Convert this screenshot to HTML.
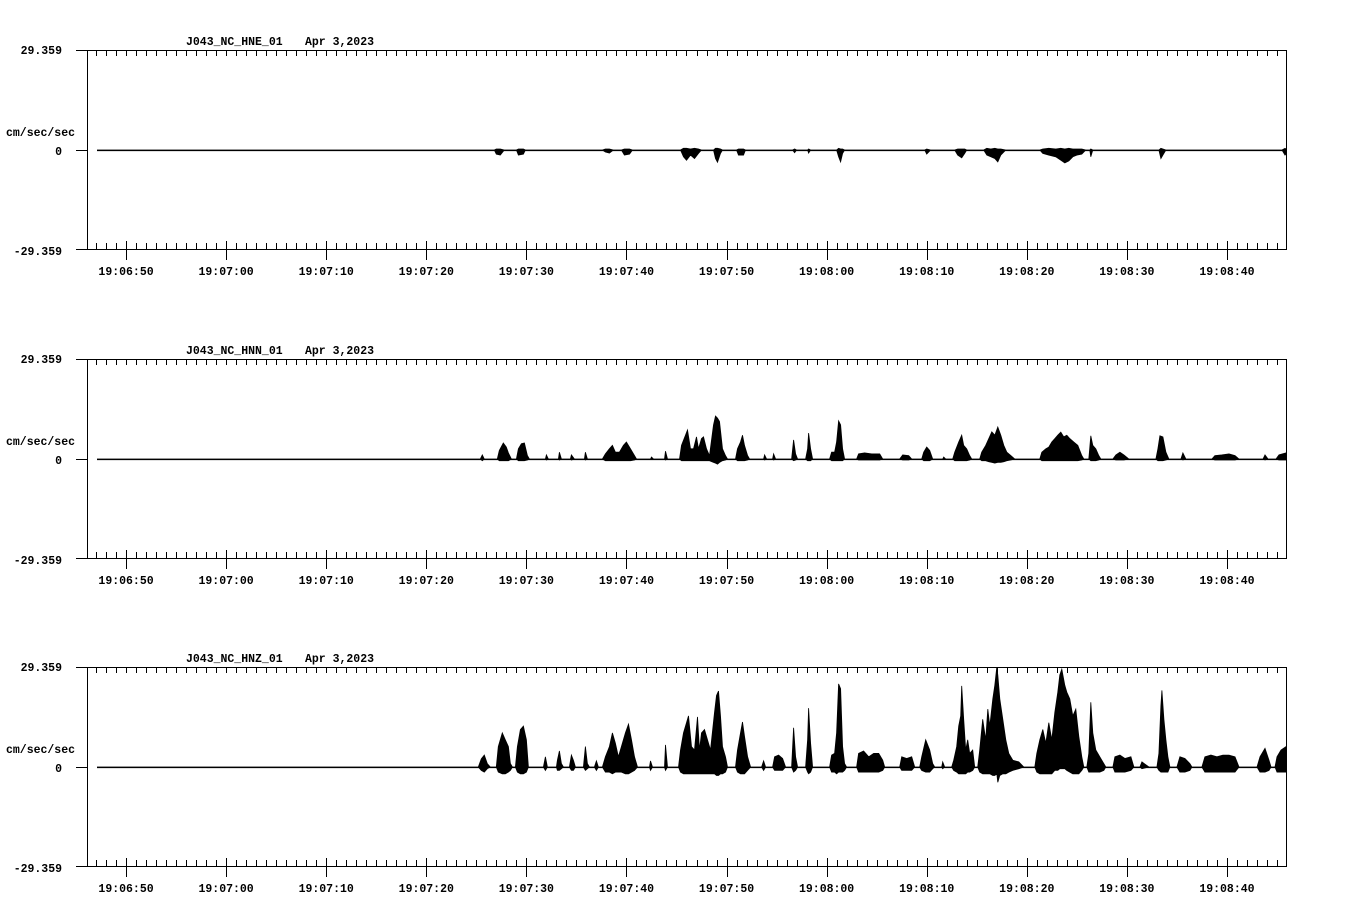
<!DOCTYPE html>
<html><head><meta charset="utf-8"><style>
html,body{margin:0;padding:0;background:#fff;}
svg{display:block;}
text{font-family:"Liberation Mono",monospace;font-weight:bold;font-size:11.5px;fill:#000;}
</style></head><body>
<svg id="chart" width="1358" height="924" viewBox="0 0 1358 924"></svg>
<script>
const channelNames = ["J043_NC_HNE_01","J043_NC_HNN_01","J043_NC_HNZ_01"];
const dateLabel = "Apr 3,2023";
const yMax = 29.359;
const tickLabels = ["19:06:50","19:07:00","19:07:10","19:07:20","19:07:30","19:07:40","19:07:50","19:08:00","19:08:10","19:08:20","19:08:30","19:08:40"];
const majorTickSeconds = [50,60,70,80,90,100,110,120,130,140,150,160];
// envelope samples: [seconds after 19:06:00, max, min] in cm/sec/sec
const hneData = [[47.1,0,0],[86.8,0,0],[87.0,0.3,-1.2],[87.4,0.3,-1.5],[87.8,0,0],[89.0,0,0],[89.2,0.3,-1.5],[89.7,0.3,-1.2],[89.9,0,0],[97.6,0,0],[97.9,0.3,-0.6],[98.3,0.3,-0.9],[98.7,0,0],[99.5,0,0],[99.8,0.3,-1.5],[100.3,0.3,-1.2],[100.6,0,0],[105.4,0,0],[105.7,0.5,-2],[106.0,0.5,-3],[106.4,0.3,-1.5],[106.8,0.5,-2.5],[107.2,0.3,-1],[107.5,0,0],[108.7,0,0],[108.9,0.5,-2.5],[109.1,0.5,-3.6],[109.4,0.3,-1],[109.6,0,0],[111.0,0,0],[111.2,0.3,-1.5],[111.7,0.3,-1.5],[111.9,0,0],[116.6,0,0],[116.8,0.3,-0.8],[117.0,0,0],[118.1,0,0],[118.2,0.3,-0.9],[118.4,0,0],[121.0,0,0],[121.2,0.5,-2],[121.4,0.3,-3.5],[121.6,0.3,-1],[121.8,0,0],[129.8,0,0],[130.0,0.3,-1.2],[130.4,0,0],[132.8,0,0],[133.1,0.3,-1.5],[133.5,0.3,-2.3],[133.8,0.3,-1],[134.0,0,0],[135.7,0,0],[136.0,0.5,-1.5],[136.4,0.3,-2],[136.8,0.5,-2.5],[137.1,0.3,-3.5],[137.4,0.3,-1.5],[137.9,0,0],[141.3,0,0],[141.6,0.3,-1],[142.2,0.5,-1.5],[142.9,0.3,-2],[143.4,0.5,-3],[143.8,0.3,-3.8],[144.2,0.5,-3.2],[144.6,0.3,-2],[145.0,0.3,-1.5],[145.5,0.3,-1.2],[145.9,0,0],[146.3,0,0],[146.4,0.3,-2],[146.6,0,0],[153.2,0,0],[153.4,0.5,-2.5],[153.6,0.3,-1.5],[153.9,0,0],[165.5,0,0],[165.8,0.5,-1.5],[165.9,0.3,-1.2]];
const hnnData = [[47.1,0,0],[85.4,0,0],[85.6,1.2,-0.5],[85.8,0,0],[87.1,0,0],[87.3,2.5,-0.5],[87.7,4.7,-0.5],[88.0,3.5,-0.5],[88.2,1.8,-0.5],[88.5,0,0],[89.0,0,0],[89.2,3,-0.5],[89.5,4.5,-0.5],[89.8,4.7,-0.5],[90.1,1,-0.3],[90.3,0,0],[91.9,0,0],[92.0,1.2,-0.3],[92.2,0,0],[93.2,0,0],[93.3,2,-0.3],[93.5,0,0],[94.4,0,0],[94.5,1.2,-0.3],[94.8,0,0],[95.8,0,0],[95.9,2,-0.3],[96.1,0,0],[97.6,0,0],[97.9,1.5,-0.5],[98.3,3,-0.5],[98.6,4,-0.5],[98.9,2,-0.5],[99.3,2,-0.5],[99.7,4,-0.5],[100.0,5,-0.5],[100.4,3,-0.5],[100.8,1,-0.3],[101.0,0,0],[102.4,0,0],[102.5,0.6,0],[102.7,0,0],[103.8,0,0],[103.9,2.3,-0.3],[104.1,0,0],[105.3,0,0],[105.5,4,-0.5],[105.9,7,-0.5],[106.1,8.5,-0.5],[106.4,3,-0.5],[106.7,3,-0.5],[107.0,6.5,-0.5],[107.2,3,-0.5],[107.5,6,-0.5],[107.7,6.5,-0.5],[108.0,3,-0.5],[108.3,1,-0.5],[108.7,10,-1],[108.9,12.6,-1.2],[109.1,12,-1.5],[109.3,11,-1],[109.6,3,-0.5],[109.9,1,-0.3],[110.1,0,0],[110.9,0,0],[111.1,3,-0.5],[111.4,5,-0.5],[111.6,7,-0.5],[111.8,4,-0.5],[112.1,1,-0.3],[112.3,0,0],[113.7,0,0],[113.8,1.2,-0.3],[114.0,0,0],[114.6,0,0],[114.7,1.5,-0.3],[114.9,0,0],[116.5,0,0],[116.7,5.6,-0.5],[116.9,1.5,-0.3],[117.1,0,0],[117.9,0,0],[118.1,3,-0.5],[118.2,7.6,-0.5],[118.4,3,-0.5],[118.6,0,0],[120.3,0,0],[120.5,2,-0.5],[120.8,2,-0.5],[121.0,5,-0.5],[121.2,11.2,-0.5],[121.4,10,-0.5],[121.6,3,-0.5],[121.8,0,0],[123.0,0,0],[123.2,1.5,-0.3],[123.8,1.8,-0.3],[124.5,1.5,-0.3],[125.3,1.5,-0.3],[125.6,0,0],[127.3,0,0],[127.6,1.2,-0.3],[128.2,1,-0.3],[128.5,0,0],[129.5,0,0],[129.7,2,-0.5],[130.0,3.5,-0.5],[130.3,2.5,-0.5],[130.6,0,0],[131.6,0,0],[131.7,0.6,0],[131.9,0,0],[132.6,0,0],[132.8,2,-0.5],[133.2,5,-0.5],[133.5,7,-0.5],[133.7,4,-0.5],[134.0,3,-0.5],[134.3,1,-0.3],[134.5,0,0],[135.3,0,0],[135.5,2,-0.5],[135.9,4,-0.5],[136.2,6,-0.8],[136.5,8,-1],[136.8,7,-1.2],[137.1,9.4,-1],[137.4,7,-1],[137.7,4,-0.8],[138.0,2,-0.5],[138.4,1,-0.3],[138.8,0,0],[141.3,0,0],[141.5,2,-0.5],[141.9,3,-0.5],[142.2,3.5,-0.5],[142.5,5,-0.5],[142.8,6,-0.5],[143.1,7,-0.5],[143.4,7.9,-0.5],[143.7,6.5,-0.5],[144.0,7,-0.5],[144.3,6,-0.5],[144.7,5,-0.5],[145.1,4,-0.5],[145.5,1,-0.3],[145.7,0,0],[146.2,0,0],[146.4,6.8,-0.5],[146.6,4,-0.5],[146.9,3,-0.5],[147.2,1,-0.3],[147.4,0,0],[148.6,0,0],[148.9,1.2,-0.3],[149.3,2,-0.3],[149.7,1.2,-0.3],[150.2,0,0],[152.9,0,0],[153.1,3,-0.5],[153.3,6.8,-0.5],[153.6,6.5,-0.5],[153.9,2,-0.3],[154.2,0,0],[155.4,0,0],[155.6,1.8,-0.3],[155.9,0,0],[158.5,0,0],[158.8,1,-0.3],[159.5,1.2,-0.3],[160.2,1.5,-0.3],[160.8,1,-0.3],[161.2,0,0],[163.6,0,0],[163.8,1.2,-0.3],[164.1,0,0],[164.9,0,0],[165.2,1.2,-0.3],[165.9,1.8,-0.3]];
const hnzData = [[47.1,0,0],[85.2,0,0],[85.5,2.4,-1],[85.8,3.5,-1.5],[86.1,1,-0.5],[86.4,0,0],[87.0,0,0],[87.2,6,-1.5],[87.6,10,-2],[87.9,8,-2],[88.2,6,-1.5],[88.4,1,-1],[88.6,0,0],[88.9,0,0],[89.1,6,-1.5],[89.4,11,-2],[89.7,12,-2],[90.0,8,-1.5],[90.2,0,0],[91.7,0,0],[91.9,3,-1],[92.1,0,0],[93.0,0,0],[93.1,2,-1],[93.3,4.7,-1],[93.5,1,-0.5],[93.7,0,0],[94.3,0,0],[94.5,3.5,-1],[94.7,2,-1],[94.9,0,0],[95.7,0,0],[95.9,6,-1],[96.1,1,-0.5],[96.3,0,0],[96.8,0,0],[97.0,1.8,-1],[97.2,0,0],[97.6,0,0],[97.9,3,-1.5],[98.3,6,-1.5],[98.6,10,-2],[98.9,7,-1.5],[99.2,3,-1.5],[99.5,6,-1.5],[99.9,10,-2],[100.2,12.6,-2],[100.5,8,-1.5],[100.8,3,-1],[101.1,0,0],[102.3,0,0],[102.4,1.8,-1],[102.6,0,0],[103.8,0,0],[103.9,6.5,-1],[104.1,0,0],[105.2,0,0],[105.4,5,-1.5],[105.7,10,-2],[106.0,13,-2],[106.2,15,-2],[106.5,6,-2],[106.8,5,-2],[107.1,14.7,-2],[107.3,5,-2],[107.5,10,-2],[107.8,11,-2],[108.1,8,-2],[108.4,5,-2],[108.8,16,-2],[109.0,21,-2.5],[109.2,22.3,-2.5],[109.4,15,-2],[109.6,6,-2],[109.9,3,-1.5],[110.1,0,0],[110.9,0,0],[111.1,5,-1.5],[111.4,10,-2],[111.6,13.2,-2],[111.8,9,-2],[112.1,3,-1],[112.4,0,0],[113.5,0,0],[113.7,1.8,-1],[113.9,0,0],[114.6,0,0],[114.8,3,-1],[115.2,3.5,-1],[115.6,2.5,-1],[115.9,0,0],[116.5,0,0],[116.7,11.5,-1.5],[116.9,3,-1],[117.1,0,0],[117.9,0,0],[118.1,8,-1.5],[118.2,17.3,-2],[118.4,7,-1.5],[118.6,0,0],[120.3,0,0],[120.5,3.5,-1.5],[120.8,4,-1.5],[121.0,10,-2],[121.2,24.4,-1.5],[121.4,23,-1.5],[121.6,6,-1.5],[121.8,1,-1],[122.0,0,0],[123.0,0,0],[123.2,4,-1.5],[123.7,4.7,-1.5],[124.2,3,-1.5],[124.7,4,-1.5],[125.2,4,-1.5],[125.6,2,-1],[125.8,0,0],[127.3,0,0],[127.5,3,-1],[128.0,2.5,-1],[128.5,3,-1],[128.8,0,0],[129.3,0,0],[129.5,3,-1],[129.9,8,-1.5],[130.3,5,-1.5],[130.6,1,-0.5],[130.8,0,0],[131.5,0,0],[131.6,1.5,-0.5],[131.8,0,0],[132.5,0,0],[132.7,2,-1],[133.0,6,-1.5],[133.2,12,-2],[133.4,15,-2],[133.5,23.8,-2],[133.7,14,-2],[133.9,5,-2],[134.1,8,-1.5],[134.3,4,-1.5],[134.6,5,-1],[134.8,0,0],[135.1,0,0],[135.3,5,-1.5],[135.6,14,-2],[135.9,8,-2],[136.1,17,-2],[136.3,12,-2],[136.6,20,-2.5],[136.8,24,-2.5],[137.0,29.4,-2],[137.1,27,-4.5],[137.3,20,-2.5],[137.6,14,-2],[137.9,8,-2],[138.2,4,-1.5],[138.6,2,-1],[139.2,1.5,-0.5],[139.7,0,0],[140.8,0,0],[141.0,4,-1.5],[141.3,8,-2],[141.6,11,-2],[141.9,7,-2],[142.2,13,-2],[142.5,8,-2],[142.8,16,-1],[143.1,22,-1],[143.3,27,-0.5],[143.5,28.7,-0.5],[143.8,24,-0.5],[144.0,22,-1],[144.3,20,-1.5],[144.6,15,-2],[144.9,17,-2],[145.2,9,-2],[145.5,3,-1],[145.7,0,0],[146.0,0,0],[146.2,4,-1.5],[146.4,19,-1.5],[146.6,10,-1.5],[146.9,5,-1.5],[147.3,3,-1.5],[147.7,1,-1],[147.9,0,0],[148.6,0,0],[148.8,3,-1.5],[149.3,3.5,-1.5],[149.8,2.5,-1.5],[150.4,3,-1],[150.7,0,0],[151.3,0,0],[151.5,1.5,-0.5],[152.2,0,0],[153.0,0,0],[153.2,4,-1],[153.4,18,-1.5],[153.5,22.5,-1.5],[153.7,14,-1.5],[153.9,8,-1.5],[154.1,3,-1.5],[154.3,0,0],[155.0,0,0],[155.3,3,-1.5],[155.8,2.5,-1.5],[156.3,1,-1],[156.5,0,0],[157.5,0,0],[157.8,3,-1.5],[158.4,3.5,-1.5],[159.0,3,-1.5],[159.6,3.5,-1.5],[160.2,3.5,-1.5],[160.8,3,-1.5],[161.2,0,0],[163.0,0,0],[163.3,3,-1.5],[163.8,5.5,-1.5],[164.2,2,-1],[164.4,0,0],[164.8,0,0],[165.0,3,-1.5],[165.4,5,-1.5],[165.9,6,-1.5]];

const NS="http://www.w3.org/2000/svg";
const svg=document.getElementById('chart');
const X0=87, X1=1286, T0=46.1, T1=165.9;
function xScale(t){return X0+(t-T0)*(X1-X0)/(T1-T0);}
function mk(tag,attrs,parent){const e=document.createElementNS(NS,tag);for(const k in attrs)e.setAttribute(k,attrs[k]);(parent||svg).appendChild(e);return e;}
function txt(s,x,y,anchor,parent){const e=mk('text',{x:x,y:y,'text-anchor':anchor||'start'},parent);e.textContent=s;return e;}

const tops=[50,359,667];
const datasets=[hneData,hnnData,hnzData];
const panelNames=['hne-panel','hnn-panel','hnz-panel'];
tops.forEach((top,i)=>{
  const H=199, zero=top+100;
  const yScale=v=>zero-v*100/yMax;
  const g=mk('g',{});
  
  
  // frame
  const frame=mk('path',{d:`M76 ${top+0.5}H${X1+0.5}V${top+H+0.5}H76M${X0+0.5} ${top}V${top+H}M76 ${zero+0.5}H${X0}`,stroke:'#000','stroke-width':1,fill:'none'},g);
  
  
  // ticks
  let d='';
  for(let s=47;s<=165;s++){
    const x=Math.round(xScale(s))+0.5;
    d+=`M${x} ${top}V${top+6}`;
    if(s%10===0) d+=`M${x} ${top+H-8}V${top+H+11}`;
    else d+=`M${x} ${top+H-6}V${top+H}`;
  }
  const ticks=mk('path',{d:d,stroke:'#000','stroke-width':1},g);
  
  
  // tick labels
  majorTickSeconds.forEach((s,k)=>{
    const t=txt(tickLabels[k],xScale(s),top+H+26,'middle',g);
    
    
  });
  // y labels
  const yl1=txt(yMax.toFixed(3),62,top+4,'end',g);
  
  
  const yl2=txt('0',62,zero+5,'end',g);
  
  
  const yl3=txt('-'+yMax.toFixed(3),62,top+H+6,'end',g);
  
  
  const un=txt('cm/sec/sec',6,zero-14,'start',g);
  
  
  const ti=txt(channelNames[i],186,top-5,'start',g);
  
  
  const dt=txt(dateLabel,305,top-5,'start',g);
  
  
  // waveform
  const data=datasets[i];
  let up=data.map(p=>`${xScale(p[0]).toFixed(1)},${Math.max(yScale(p[1]),top).toFixed(1)}`);
  let dn=data.slice().reverse().map(p=>`${xScale(p[0]).toFixed(1)},${Math.min(yScale(p[2]),top+H).toFixed(1)}`);
  const base=mk('line',{x1:xScale(data[0][0]),x2:X1,y1:zero+0.5,y2:zero+0.5,stroke:'#000','stroke-width':1.2},g);
  
  
  const wf=mk('polygon',{points:up.concat(dn).join(' '),fill:'#000',stroke:'#000','stroke-width':0.8,'stroke-linejoin':'miter'},g);
  
  
});
</script>
</body></html>
